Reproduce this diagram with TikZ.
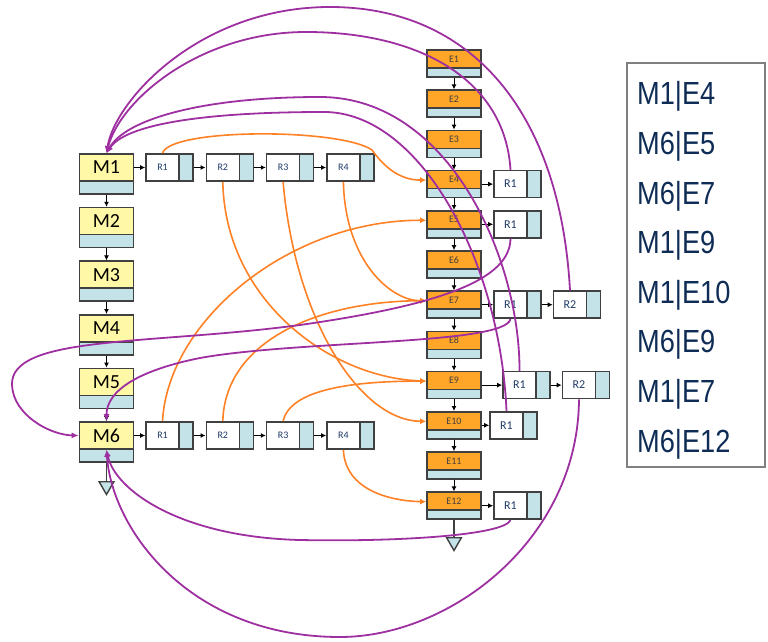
\documentclass[tikz,border=0pt]{standalone}
\usepackage{fontspec}
\setmainfont{Carlito}
\newfontfamily\legendfont[FakeStretch=0.85]{Liberation Sans}
\usetikzlibrary{arrows.meta,shapes.geometric}

\definecolor{myellow}{HTML}{FFF8A6}
\definecolor{cellblue}{HTML}{C3E3E8}
\definecolor{eorange}{HTML}{FFA528}
\definecolor{boxgray}{HTML}{404040}
\definecolor{linkpurple}{HTML}{9E2FA0}
\definecolor{linkorange}{HTML}{FF8125}
\definecolor{legendblue}{HTML}{0E2C55}
\definecolor{rtextblue}{HTML}{1F3A68}

\tikzset{
  cell/.style={draw=boxgray, line width=1.6pt, inner sep=0pt},
  strip/.style={fill=cellblue, draw=boxgray, line width=1.6pt},
  mtext/.style={font=\fontsize{20}{20}\selectfont, text=black, inner sep=0pt},
  etext/.style={font=\fontsize{10}{10}\selectfont, text=black!75, inner sep=0pt},
  rtext/.style={font=\fontsize{10}{10}\selectfont, text=rtextblue, inner sep=0pt},
  mbox/.style={cell, fill=myellow, minimum width=54pt, minimum height=40pt,
    path picture={\draw[strip] (path picture bounding box.south west) rectangle ([yshift=13pt]path picture bounding box.south east);},
    label={[mtext, yshift=6.5pt]center:#1}},
  ebox/.style={cell, fill=eorange, minimum width=54pt, minimum height=27pt,
    path picture={\draw[strip] (path picture bounding box.south west) rectangle ([yshift=9pt]path picture bounding box.south east);},
    label={[etext, yshift=4.5pt]center:#1}},
  rcell/.style={cell, fill=white, minimum width=47pt, minimum height=27pt,
    path picture={\draw[strip] ([xshift=-14pt]path picture bounding box.north east) rectangle (path picture bounding box.south east);}},
  rbox/.style={rcell, label={[rtext, xshift=-7pt]center:#1}},
  erbox/.style={rcell, label={[rtext, font=\fontsize{12}{12}\selectfont, xshift=-7pt]center:#1}},
  endmark/.style={regular polygon, regular polygon sides=3, shape border rotate=180,
    minimum size=17pt, inner sep=0pt, draw=boxgray, line width=1.4pt, fill=cellblue},
  nextarrow/.style={draw=black, line width=1pt, -{Latex[length=5pt,width=5pt]}},
  stem/.style={draw=boxgray, line width=1.4pt},
  olink/.style={draw=linkorange, line width=1.6pt, -{Latex[length=6pt,width=6pt]}},
  plink/.style={draw=linkpurple, line width=1.8pt, -{Latex[length=7pt,width=6pt]}},
  legendtext/.style={anchor=base west, inner sep=0pt, text=legendblue,
    font=\legendfont\fontsize{32}{32}\selectfont}
}

\begin{document}
\begin{tikzpicture}[x=1pt,y=-1pt]
    \useasboundingbox (0,0) rectangle (768,642);
    % lists
    \foreach \i in {1,...,6}
	\node[mbox=M\i] (m\i) at (106.5,{174+53.6*(\i-1)}) {};
    \foreach \i in {1,...,12}
	\node[ebox=E\i] (e\i) at (454,{63.5+40.2*(\i-1)}) {};
    \foreach \m/\y in {1/167.5,6/435.5}
	\foreach \r in {1,...,4}
	    \node[rbox=R\r] (m\m-r\r) at ({109.2+60.3*\r},\y) {};
    \foreach \e/\x/\r in {4/517.5/1,5/517.5/1,7/517.5/1,7/577/2,9/526.5/1,9/586/2,10/513.5/1,12/517.5/1}
	\node[erbox=R\r] (e\e-r\r) at (\x,0 |- e\e) {};
    \node[endmark] (m-end) at (106.5,486) {};
    \node[endmark] (e-end) at (454,542) {};
    % next pointers
    \foreach \i [remember=\i as \p (initially 1)] in {2,...,6}
	\draw[nextarrow] (m\p) -- (m\i);
    \foreach \i [remember=\i as \p (initially 1)] in {2,...,12}
	\draw[nextarrow] (e\p) -- (e\i);
    \draw[stem] (m6) -- (m-end);
    \draw[stem] (e12) -- (e-end);
    \foreach \m in {1,6} {
	\draw[nextarrow] (m\m.east |- m\m-r1) -- (m\m-r1);
	\foreach \i [remember=\i as \p (initially 1)] in {2,3,4}
	    \draw[nextarrow] (m\m-r\p) -- (m\m-r\i);
    }
    \foreach \e in {4,5,7,9,10,12}
	\draw[nextarrow] (e\e) -- (e\e-r1);
    \draw[nextarrow] (e7-r1) -- (e7-r2);
    \draw[nextarrow] (e9-r1) -- (e9-r2);
    % M -> E
    \draw[olink] ([xshift=-7pt]m1-r1.north) .. controls (170,128) and (340,128) .. (372,150)
	.. controls (385,168) and (400,180) .. ([yshift=4pt]e4.west);
    \draw[olink] ([xshift=-7pt]m1-r2.south) .. controls (225,300) and (330,378) .. ([yshift=4pt]e9.west);
    \draw[olink] ([xshift=-7pt]m1-r3.south) .. controls (295,320) and (360,421) .. ([yshift=4pt]e10.west);
    \draw[olink] ([xshift=-7pt]m1-r4.south) .. controls (345,260) and (390,301) .. ([yshift=4pt]e7.west);
    \draw[olink] ([xshift=-7pt]m6-r1.north) .. controls (168,320) and (290,220) .. ([yshift=4pt]e5.west);
    \draw[olink] ([xshift=-7pt]m6-r2.north) .. controls (225,340) and (320,301) .. ([yshift=4pt]e7.west);
    \draw[olink] ([xshift=-7pt]m6-r3.north) .. controls (290,390) and (350,381) .. ([yshift=4pt]e9.west);
    \draw[olink] ([xshift=-7pt]m6-r4.south) .. controls (345,490) and (390,501) .. ([yshift=4pt]e12.west);
    % E -> M
    \draw[plink] ([xshift=-7pt]e7-r2.north) .. controls (560,110) and (470,7) .. (330,7)
	.. controls (200,7) and (115,100) .. (m1.north);
    \draw[plink] ([xshift=-7pt]e4-r1.north) .. controls (505,80) and (420,32) .. (306,32)
	.. controls (200,32) and (120,100) .. (m1.north);
    \draw[plink] ([xshift=-7pt]e9-r1.north) .. controls (520,260) and (450,97) .. (320,97)
	.. controls (200,97) and (125,120) .. (m1.north);
    \draw[plink] ([xshift=-7pt]e10-r1.north) .. controls (500,260) and (420,112) .. (324,112)
	.. controls (200,112) and (125,125) .. (m1.north);
    \draw[plink] ([xshift=-7pt]e5-r1.south) .. controls (510,280) and (440,305) .. (300,325)
	.. controls (150,345) and (10,335) .. (12,385)
	.. controls (13.2,415) and (50,435) .. ([yshift=6.5pt]m6.west);
    \draw[plink] ([xshift=-7pt]e7-r1.south) .. controls (505,345) and (300,340) .. (200,358)
	.. controls (140,370) and (106.5,390) .. (m6.north);
    \draw[plink] ([xshift=-7pt]e9-r2.south) .. controls (578,540) and (450,637) .. (340,637)
	.. controls (190,637) and (112,530) .. ([yshift=13pt]m6.south);
    \draw[plink] ([xshift=-7pt]e12-r1.south) .. controls (505,535) and (400,542) .. (300,540)
	.. controls (180,537) and (115,490) .. ([yshift=13pt]m6.south);
    % pairs
    \draw[gray, line width=1.2pt] (627,63) rectangle (765,467);
    \foreach \t [count=\k] in {M1|E4,M6|E5,M6|E7,M1|E9,M1|E10,M6|E9,M1|E7,M6|E12}
	\node[legendtext] (pair\k) at (637,{104.8+49.6*(\k-1)}) {\t};
\end{tikzpicture}
\end{document}
